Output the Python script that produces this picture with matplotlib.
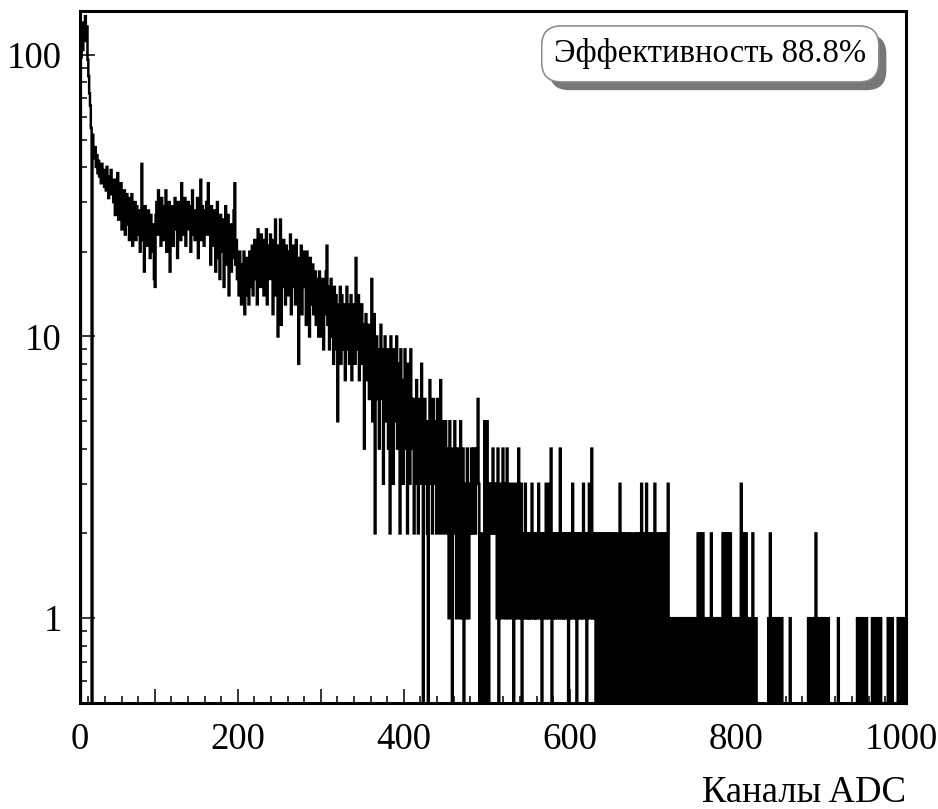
import numpy as np
import matplotlib
matplotlib.use('Agg')
import matplotlib.pyplot as plt
from matplotlib.ticker import MultipleLocator, FuncFormatter, LogLocator, NullFormatter
import matplotlib.patheffects as pe

plt.rcParams['font.family'] = ['Liberation Serif', 'DejaVu Serif']

# счёт по каналам ADC, первый канал = 10
first_channel = 10
counts_000 = [0, 98, 117, 104, 130, 121, 137, 112, 126, 96,
              84, 73, 66, 55, 0, 52, 46, 43, 47, 40,
              44, 38, 42, 37, 40, 35, 41, 36, 39, 34,
              38, 33, 40, 36, 31, 37, 34, 39, 32, 35,
              30, 36, 27, 33, 29, 38, 26, 31, 28, 35,
              24, 30, 27, 33, 23, 29, 32, 25, 31, 22,
              28, 26, 32, 21, 27, 24, 30, 22, 29, 25,
              23, 28, 20, 26, 41, 22, 27, 17, 29, 24,
              26, 21, 28, 23, 19, 27, 22, 25, 20, 16]
counts_100 = [15, 27, 30, 23, 33, 25, 28, 21, 31, 24,
              29, 22, 26, 33, 20, 28, 24, 30, 17, 27,
              23, 29, 21, 26, 31, 24, 28, 19, 30, 25,
              27, 22, 35, 26, 29, 23, 31, 21, 28, 25,
              30, 24, 27, 20, 29, 33, 23, 26, 22, 28,
              25, 31, 19, 27, 24, 36, 22, 29, 26, 21,
              28, 24, 30, 23, 35, 25, 27, 18, 29, 22,
              26, 21, 28, 17, 24, 30, 19, 25, 16, 27,
              23, 20, 26, 15, 24, 29, 18, 22, 27, 14,
              21, 25, 17, 23, 19, 28, 35, 18, 22, 16]
counts_200 = [19, 14, 20, 16, 13, 18, 15, 20, 12, 17,
              14, 19, 16, 13, 20, 15, 18, 21, 14, 19,
              22, 16, 20, 13, 24, 18, 21, 15, 23, 17,
              20, 14, 22, 18, 24, 13, 19, 21, 16, 23,
              18, 20, 12, 22, 17, 26, 14, 19, 10, 21,
              16, 26, 11, 20, 15, 22, 17, 13, 21, 18,
              14, 20, 16, 23, 12, 19, 15, 21, 17, 13,
              22, 16, 19, 8, 18, 14, 21, 12, 17, 20,
              15, 18, 11, 20, 14, 17, 10, 19, 13, 16,
              18, 12, 15, 17, 11, 16, 14, 10, 17, 13]
counts_300 = [15, 10, 16, 9, 14, 12, 17, 21, 11, 15,
              9, 14, 16, 10, 13, 8, 15, 11, 14, 9,
              5, 13, 10, 15, 8, 14, 11, 9, 13, 7,
              12, 15, 9, 13, 8, 11, 14, 7, 12, 10,
              13, 8, 19, 11, 9, 14, 7, 12, 10, 13,
              8, 11, 4, 10, 12, 7, 9, 11, 6, 10,
              8, 16, 5, 9, 12, 2, 7, 10, 6, 9,
              4, 8, 11, 6, 9, 3, 7, 10, 5, 8,
              9, 4, 7, 2, 10, 6, 8, 3, 9, 5,
              7, 10, 4, 8, 6, 2, 9, 5, 7, 3]
counts_400 = [6, 9, 4, 7, 2, 8, 5, 3, 9, 6,
              4, 6, 2, 5, 3, 7, 4, 2, 6, 3,
              5, 8, 3, 0, 4, 6, 3, 5, 2, 0,
              4, 7, 3, 5, 2, 6, 4, 3, 5, 2,
              6, 3, 4, 2, 7, 3, 5, 2, 4, 3,
              5, 2, 4, 3, 1, 5, 2, 3, 0, 4,
              2, 5, 3, 1, 4, 2, 3, 1, 5, 2,
              1, 4, 0, 3, 2, 1, 4, 2, 1, 3,
              2, 4, 3, 2, 4, 3, 2, 4, 3, 6,
              3, 0, 2, 0, 1, 0, 2, 5, 0, 3]
counts_500 = [5, 2, 0, 3, 2, 3, 2, 4, 3, 2,
              3, 2, 1, 4, 0, 2, 1, 3, 2, 4,
              1, 3, 2, 1, 4, 2, 1, 3, 2, 1,
              2, 3, 0, 2, 1, 3, 2, 1, 4, 2,
              1, 3, 0, 2, 1, 2, 3, 1, 2, 1,
              2, 1, 2, 1, 3, 2, 1, 2, 1, 2,
              1, 2, 3, 1, 2, 2, 0, 1, 2, 1,
              2, 3, 1, 2, 1, 3, 2, 4, 0, 2,
              1, 2, 1, 2, 2, 1, 2, 1, 4, 2,
              1, 2, 1, 2, 1, 2, 2, 1, 0, 2]
counts_600 = [1, 2, 1, 3, 2, 1, 2, 1, 0, 2,
              1, 2, 2, 1, 2, 1, 3, 2, 1, 2,
              0, 1, 2, 3, 1, 2, 4, 1, 2, 1,
              2, 0, 1, 2, 0, 1, 2, 1, 0, 2,
              1, 0, 2, 1, 0, 2, 1, 2, 0, 1,
              2, 0, 1, 2, 1, 0, 2, 1, 0, 1,
              3, 1, 0, 2, 1, 2, 0, 1, 2, 0,
              1, 2, 0, 1, 2, 0, 1, 0, 2, 1,
              0, 2, 1, 0, 2, 1, 3, 0, 1, 2,
              0, 1, 3, 0, 2, 1, 0, 2, 1, 0]
counts_700 = [2, 1, 3, 0, 1, 2, 0, 1, 2, 0,
              1, 2, 0, 1, 2, 0, 1, 2, 3, 0,
              1, 0, 1, 0, 1, 1, 0, 1, 0, 1,
              0, 1, 1, 0, 1, 0, 1, 0, 1, 1,
              0, 1, 0, 1, 1, 0, 1, 0, 1, 0,
              1, 0, 1, 1, 2, 0, 2, 1, 2, 0,
              2, 1, 0, 1, 0, 1, 1, 0, 1, 0,
              2, 0, 1, 0, 1, 1, 0, 1, 0, 1,
              0, 1, 1, 0, 2, 1, 2, 0, 2, 1,
              2, 0, 1, 2, 1, 0, 1, 0, 1, 1]
counts_800 = [0, 1, 0, 1, 1, 0, 3, 2, 0, 2,
              1, 0, 2, 1, 0, 1, 1, 0, 1, 0,
              2, 1, 0, 1, 1, 0, 0, 0, 0, 0,
              0, 0, 0, 0, 0, 0, 0, 0, 0, 1,
              0, 2, 1, 0, 1, 1, 0, 1, 0, 1,
              1, 0, 1, 0, 0, 1, 0, 0, 0, 0,
              0, 0, 0, 0, 0, 1, 0, 0, 0, 0,
              0, 0, 0, 0, 0, 0, 0, 0, 0, 0,
              0, 0, 0, 0, 0, 0, 0, 1, 0, 1,
              1, 0, 1, 0, 1, 1, 2, 0, 1, 0]
counts_900 = [1, 1, 0, 1, 0, 1, 0, 0, 1, 1,
              0, 1, 0, 0, 0, 0, 0, 0, 0, 0,
              0, 0, 0, 1, 0, 0, 0, 0, 0, 0,
              0, 0, 0, 0, 0, 0, 0, 0, 0, 0,
              0, 0, 0, 0, 0, 0, 1, 0, 1, 0,
              0, 1, 0, 0, 1, 0, 0, 1, 0, 0,
              0, 0, 0, 0, 1, 0, 1, 0, 0, 1,
              0, 0, 1, 0, 1, 0, 0, 0, 0, 0,
              0, 0, 0, 1, 0, 1, 0, 0, 1, 0,
              0, 0, 0, 0, 0, 1, 0, 1, 0, 1,
              1, 0, 1, 0, 0]

efficiency_text = 'Эффективность 88.8%'
x_label = 'Каналы ADC'

counts = np.concatenate([counts_000, counts_100, counts_200, counts_300,
                         counts_400, counts_500, counts_600, counts_700,
                         counts_800, counts_900]).astype(float)
edges = np.arange(first_channel, first_channel + len(counts) + 1)

fig = plt.figure(figsize=(9.38, 8.09), dpi=100, facecolor='w')
ax = fig.add_axes([0.0853, 0.131, 0.8806, 0.8554])

ax.set_yscale('log', nonpositive='clip')
ax.stairs(counts, edges, baseline=None, color='black', linewidth=1.8)

ax.set_xlim(10, 1005)
ax.set_ylim(0.5, 143)

for s in ax.spines.values():
    s.set_linewidth(2.2)

ax.xaxis.set_major_locator(MultipleLocator(100))
ax.xaxis.set_minor_locator(MultipleLocator(20))
ax.xaxis.set_major_formatter(
    FuncFormatter(lambda v, p: '%d' % v if v % 200 == 0 else ''))
ax.set_yticks([1, 10, 100])
ax.set_yticklabels(['1', '10', '100'])
ax.yaxis.set_minor_locator(LogLocator(base=10, subs=np.arange(2, 10)))
ax.yaxis.set_minor_formatter(NullFormatter())

ax.tick_params(which='both', direction='in', top=False, right=False,
               labelsize=26.5, width=1.1)
ax.tick_params(axis='x', which='major', length=10, pad=14)
ax.tick_params(axis='y', which='major', length=11, pad=13)
ax.tick_params(which='minor', length=5)

# метка "0" у левого края оси
ax.annotate('0', xy=(0, 0), xycoords='axes fraction', xytext=(0, -14),
            textcoords='offset points', ha='center', va='top', fontsize=26.5)

ax.annotate(x_label, xy=(1, 0), xycoords='axes fraction', xytext=(0, -71),
            textcoords='offset points', ha='right', va='baseline', fontsize=26.5)

t = ax.text(0.763, 0.938, efficiency_text, transform=ax.transAxes,
            ha='center', va='center', fontsize=23.5,
            bbox=dict(boxstyle='round,pad=0.38,rounding_size=0.6',
                      fc='white', ec='#8a8a8a', lw=1.0))
t.get_bbox_patch().set_path_effects([
    pe.withSimplePatchShadow(offset=(5.5, -6), shadow_rgbFace='#777777', alpha=1.0),
    pe.Normal()])

plt.savefig('out.png', dpi=100)
